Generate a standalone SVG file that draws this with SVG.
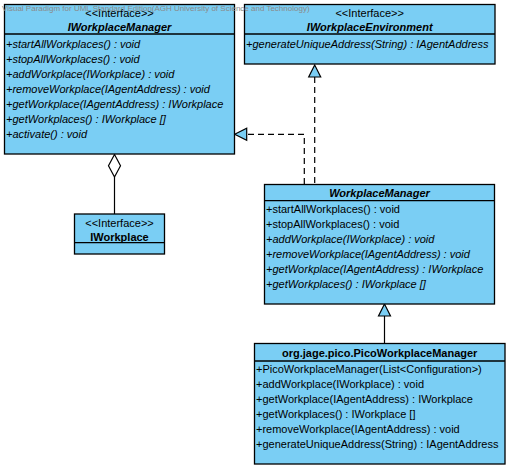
<svg xmlns="http://www.w3.org/2000/svg" width="510" height="470" viewBox="0 0 510 470">
<style>
.box{fill:#7ACEF4;stroke:#000;stroke-width:1.3}
.sep{stroke:#000;stroke-width:1.3}
.t{font-family:"Liberation Sans",Arial,sans-serif;font-size:11px;fill:#000}
.c{text-anchor:middle}
.b{font-weight:bold}
.i{font-style:italic}
.dash{fill:none;stroke:#000;stroke-width:1.2;stroke-dasharray:6,4}
.line{fill:none;stroke:#000;stroke-width:1.2}
.tri{fill:#7ACEF4;stroke:#000;stroke-width:1.2}
.wm{font-family:"Liberation Sans",Arial,sans-serif;font-size:8px;fill:#8a8a8a}
</style>
<g id="connectors">
<path class="dash" d="M314.7,77 V184"/>
<path class="dash" d="M304.3,184 V134.3 H247"/>
<polygon class="tri" points="314.7,65 308.7,77 320.7,77"/>
<polygon class="tri" points="234.7,134.3 246.7,128.3 246.7,140.3"/>
<path class="line" d="M384.5,316 V343"/>
<polygon class="tri" points="384.5,304 378.5,316 390.5,316"/>
<path class="line" d="M114.5,177 V214"/>
<polygon points="114.5,154.5 120.5,165.8 114.5,177 108.5,165.8" fill="#fff" stroke="#000" stroke-width="1.2"/>
</g>
<g id="IWorkplaceManager">
<rect class="box" x="4.5" y="4.5" width="230" height="149.5"/>
<line class="sep" x1="4.5" y1="34" x2="234.5" y2="34"/>
<text class="t c" x="119.5" y="17">&lt;&lt;Interface&gt;&gt;</text>
<text class="t c b i" x="119.5" y="31">IWorkplaceManager</text>
<text class="t i" x="6" y="48">+startAllWorkplaces() : void</text>
<text class="t i" x="6" y="63">+stopAllWorkplaces() : void</text>
<text class="t i" x="6" y="78">+addWorkplace(IWorkplace) : void</text>
<text class="t i" x="6" y="93">+removeWorkplace(IAgentAddress) : void</text>
<text class="t i" x="6" y="108">+getWorkplace(IAgentAddress) : IWorkplace</text>
<text class="t i" x="6" y="123">+getWorkplaces() : IWorkplace []</text>
<text class="t i" x="6" y="138">+activate() : void</text>
</g>
<g id="IWorkplaceEnvironment">
<rect class="box" x="244.5" y="4.5" width="250.5" height="59.5"/>
<line class="sep" x1="244.5" y1="34" x2="495" y2="34"/>
<text class="t c" x="369.7" y="17">&lt;&lt;Interface&gt;&gt;</text>
<text class="t c b i" x="369.7" y="31">IWorkplaceEnvironment</text>
<text class="t i" x="246" y="48">+generateUniqueAddress(String) : IAgentAddress</text>
</g>
<g id="IWorkplace">
<rect class="box" x="74.5" y="214" width="90" height="40"/>
<line class="sep" x1="74.5" y1="242.7" x2="164.5" y2="242.7"/>
<text class="t c" x="119.5" y="227">&lt;&lt;Interface&gt;&gt;</text>
<text class="t c b" x="119.5" y="240.5">IWorkplace</text>
</g>
<g id="WorkplaceManager">
<rect class="box" x="264.5" y="184.5" width="230" height="119.5"/>
<line class="sep" x1="264.5" y1="200.7" x2="494.5" y2="200.7"/>
<text class="t c b i" x="379.5" y="197">WorkplaceManager</text>
<text class="t" x="266" y="213">+startAllWorkplaces() : void</text>
<text class="t" x="266" y="228">+stopAllWorkplaces() : void</text>
<text class="t i" x="266" y="243">+addWorkplace(IWorkplace) : void</text>
<text class="t i" x="266" y="258">+removeWorkplace(IAgentAddress) : void</text>
<text class="t i" x="266" y="273">+getWorkplace(IAgentAddress) : IWorkplace</text>
<text class="t i" x="266" y="288">+getWorkplaces() : IWorkplace []</text>
</g>
<g id="PicoWorkplaceManager">
<rect class="box" x="254.5" y="343.5" width="250.5" height="120.5"/>
<line class="sep" x1="254.5" y1="361" x2="505" y2="361"/>
<text class="t c b" x="379.7" y="357">org.jage.pico.PicoWorkplaceManager</text>
<text class="t" x="256" y="373">+PicoWorkplaceManager(List&lt;Configuration&gt;)</text>
<text class="t" x="256" y="388">+addWorkplace(IWorkplace) : void</text>
<text class="t" x="256" y="403">+getWorkplace(IAgentAddress) : IWorkplace</text>
<text class="t" x="256" y="418">+getWorkplaces() : IWorkplace []</text>
<text class="t" x="256" y="433">+removeWorkplace(IAgentAddress) : void</text>
<text class="t" x="256" y="448">+generateUniqueAddress(String) : IAgentAddress</text>
</g>
<text class="wm" x="2" y="11">Visual Paradigm for UML Standard Edition(AGH University of Science and Technology)</text>
</svg>
